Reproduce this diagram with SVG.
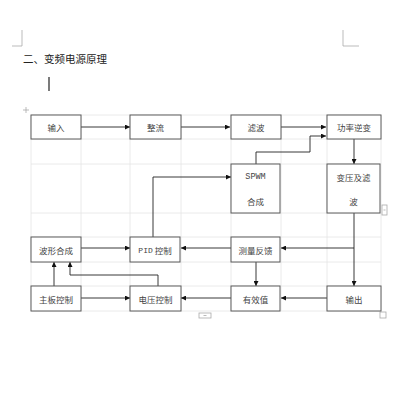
<svg xmlns="http://www.w3.org/2000/svg" width="400" height="400" viewBox="0 0 400 400">
<style>
.grid{stroke:#e4e4e4;stroke-width:0.8;fill:none}
.box{fill:#fff;stroke:#5a5a5a;stroke-width:1}
.lbl{font-family:"Noto Sans CJK SC","Noto Sans",sans-serif;font-size:8.5px;fill:#444;text-anchor:middle;dominant-baseline:central}
.mono{font-family:"Liberation Mono","Noto Sans CJK SC",monospace}
.con{stroke:#222;stroke-width:0.9;fill:none}
.ui{stroke:#aaa;stroke-width:0.8;fill:none}
</style>
<defs>
<marker id="ah" viewBox="0 0 6 6" refX="6" refY="3" markerWidth="5" markerHeight="5" orient="auto" markerUnits="userSpaceOnUse">
<path d="M0,0 L6,3 L0,6 z" fill="#111"/>
</marker>
</defs>
<rect width="400" height="400" fill="#fff"/>
<!-- page corner marks -->
<path class="ui" d="M22,30 V46 H12"/>
<path class="ui" d="M343,30 V46 H359"/>
<text x="23" y="63" font-family="Noto Sans CJK SC,sans-serif" font-size="10.5" fill="#222">二、变频电源原理</text>
<line x1="49" y1="77" x2="49" y2="91" stroke="#222" stroke-width="1.2"/>
<!-- table grid -->
<g id="grid">
<path class="grid" d="M31,115 V311 M81,115 V311 M130,115 V311 M181,115 V311 M231,115 V311 M281,115 V311 M327,115 V311 M381,115 V311"/>
<path class="grid" d="M31,115 H381 M31,139 H381 M31,164 H381 M31,213 H381 M31,237 H381 M31,262 H381 M31,286 H381 M31,311 H381"/>
</g>
<!-- table UI handles -->
<g id="handles">
<path class="ui" d="M23,110 H29 M26,107 V113"/>
<rect class="ui" x="382" y="205" width="5" height="10"/>
<path class="ui" d="M383.5,210 H385.5"/>
<rect class="ui" x="199" y="313" width="12" height="5"/>
<path class="ui" d="M203.5,315.5 H206.5"/>
<rect class="ui" x="380" y="312" width="6" height="6"/>
</g>
<g id="connectors">
<line class="con" x1="81" y1="127" x2="130" y2="127" marker-end="url(#ah)"/>
<line class="con" x1="181" y1="127" x2="230" y2="127" marker-end="url(#ah)"/>
<line class="con" x1="281" y1="127" x2="326" y2="127" marker-end="url(#ah)"/>
<polyline class="con" points="256,164 256,152 310,152 310,136 326,136" marker-end="url(#ah)"/>
<line class="con" x1="354" y1="139" x2="354" y2="164" marker-end="url(#ah)"/>
<polyline class="con" points="153,237 153,177 231,177" marker-end="url(#ah)"/>
<line class="con" x1="81" y1="248" x2="130" y2="248" marker-end="url(#ah)"/>
<line class="con" x1="231" y1="248" x2="181" y2="248" marker-end="url(#ah)"/>
<line class="con" x1="354" y1="213" x2="354" y2="286" marker-end="url(#ah)"/>
<line class="con" x1="354" y1="248" x2="281" y2="248" marker-end="url(#ah)"/>
<line class="con" x1="256" y1="262" x2="256" y2="286" marker-end="url(#ah)"/>
<line class="con" x1="327" y1="298" x2="281" y2="298" marker-end="url(#ah)"/>
<line class="con" x1="231" y1="298" x2="181" y2="298" marker-end="url(#ah)"/>
<line class="con" x1="81" y1="298" x2="130" y2="298" marker-end="url(#ah)"/>
<line class="con" x1="54" y1="286" x2="54" y2="262" marker-end="url(#ah)"/>
<polyline class="con" points="158,286 158,275 70,275 70,262" marker-end="url(#ah)"/>
</g>
<g id="n-input"><rect class="box" x="31" y="115" width="50" height="24"/><text class="lbl" x="56" y="127">输入</text></g>
<g id="n-rect"><rect class="box" x="130" y="115" width="51" height="24"/><text class="lbl" x="155.5" y="127">整流</text></g>
<g id="n-filter"><rect class="box" x="231" y="115" width="50" height="24"/><text class="lbl" x="256" y="127">滤波</text></g>
<g id="n-inv"><rect class="box" x="327" y="115" width="54" height="24"/><text class="lbl" x="354" y="127">功率逆变</text></g>
<g id="n-spwm"><rect class="box" x="231" y="164" width="49" height="49"/><text class="lbl mono" x="255.5" y="177" font-size="8">SPWM</text><text class="lbl" x="255.5" y="201">合成</text></g>
<g id="n-trans"><rect class="box" x="327" y="164" width="53" height="49"/><text class="lbl" x="353.5" y="177">变压及滤</text><text class="lbl" x="353.5" y="201">波</text></g>
<g id="n-wave"><rect class="box" x="31" y="237" width="50" height="25"/><text class="lbl" x="56" y="249.5">波形合成</text></g>
<g id="n-pid"><rect class="box" x="130" y="237" width="50" height="25"/><text class="lbl" x="155" y="249.5"><tspan class="mono" font-size="8">PID</tspan> 控制</text></g>
<g id="n-meas"><rect class="box" x="231" y="237" width="49" height="25"/><text class="lbl" x="255.5" y="249.5">测量反馈</text></g>
<g id="n-main"><rect class="box" x="31" y="286" width="50" height="25"/><text class="lbl" x="56" y="298.5">主板控制</text></g>
<g id="n-volt"><rect class="box" x="130" y="286" width="51" height="25"/><text class="lbl" x="155.5" y="298.5">电压控制</text></g>
<g id="n-rms"><rect class="box" x="231" y="286" width="49" height="25"/><text class="lbl" x="255.5" y="298.5">有效值</text></g>
<g id="n-out"><rect class="box" x="327" y="286" width="54" height="25"/><text class="lbl" x="354" y="298.5">输出</text></g>
</svg>
